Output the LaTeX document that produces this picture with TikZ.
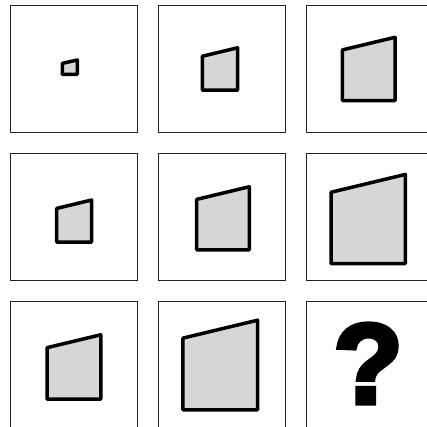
\documentclass[tikz,border=0pt]{standalone}
\usepackage{fontspec}
\newfontfamily\qfont[FakeBold=4]{Liberation Sans Bold}
\definecolor{shapefill}{HTML}{D6D6D6}
\definecolor{cellline}{HTML}{222222}
\tikzset{
  cell/.style={draw=cellline, line width=1.2pt, minimum size=126.6pt, inner sep=0pt, fill=white},
  quad/.style={draw=black, fill=shapefill, line width=3.5pt, line join=round},
}
\newcommand\trapz[3]{%
  \draw[quad] ({#1-#3/2},{#2+0.6*#3}) -- ({#1+#3/2},{#2+0.6*#3})
    -- ({#1+#3/2},{#2-0.6*#3}) -- ({#1-#3/2},{#2-0.36*#3}) -- cycle;}
\begin{document}
\begin{tikzpicture}[x=1pt,y=-1pt]
\useasboundingbox (0,0) rectangle (426,427);
% grid of cells
\node[cell] (c11) at (74,69) {};
\node[cell] (c12) at (222,69) {};
\node[cell] (c13) at (369.7,69) {};
\node[cell] (c21) at (74,217) {};
\node[cell] (c22) at (222,217) {};
\node[cell] (c23) at (369.7,217) {};
\node[cell] (c31) at (74,365) {};
\node[cell] (c32) at (222,365) {};
\node[cell] (c33) at (369.7,365) {};
% shapes
\draw[quad] (62.3,74.4) -- (77.3,74.4) -- (77.3,60) -- (62.3,63.4) -- cycle;
\trapz{220}{69}{35.4}
\trapz{368.7}{68.9}{52.7}
\trapz{74.2}{221}{35}
\trapz{223}{218.3}{52.6}
\trapz{368.2}{219}{74.3}
\trapz{73.9}{367}{53.7}
\trapz{220.3}{365}{74.7}
% question mark
\node[inner sep=0pt] (q) at (368.2,363.5) {\qfont\fontsize{114}{114}\selectfont ?};
\end{tikzpicture}
\end{document}
